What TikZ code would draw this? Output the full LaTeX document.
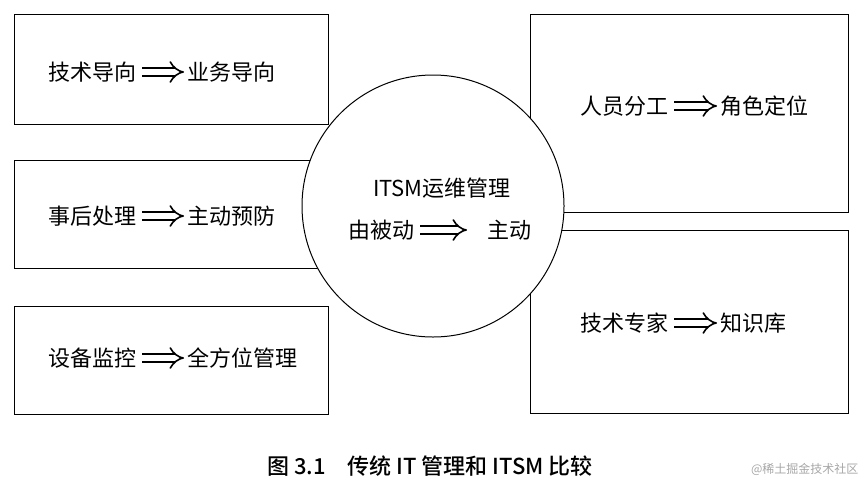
\documentclass[tikz,border=0pt]{standalone}
\usepackage{fontspec}
\setmainfont{Liberation Serif}
\newfontfamily\cjk{Noto Sans CJK SC}
\newfontfamily\cjkm{Noto Sans CJK SC Medium}
\usetikzlibrary{arrows}
\begin{document}
\begin{tikzpicture}[x=1pt,y=-1pt,
  box/.style={draw,line width=1pt},
  txt/.style={font=\cjk\fontsize{22}{26}\selectfont,inner sep=0pt},
  imp/.style={double,double distance=6pt,line width=1.6pt,-implies}]
\useasboundingbox (0,0) rectangle (866,490);
\draw[box] (14,14) rectangle (328,124);
\draw[box] (14,160) rectangle (328,268);
\draw[box] (14,306) rectangle (328,414);
\draw[box] (530,14) rectangle (848,212);
\draw[box] (530,230) rectangle (848,413);
\node[circle,draw,line width=1pt,fill=white,minimum size=262pt,inner sep=0pt] (c) at (433,206) {};
\node[txt,anchor=east] (a1) at (137,72) {技术导向};
\node[txt,anchor=west] (b1) at (187,72) {业务导向};
\node[txt,anchor=east] (a2) at (137,216) {事后处理};
\node[txt,anchor=west] (b2) at (187,216) {主动预防};
\node[txt,anchor=east] (a3) at (137,358) {设备监控};
\node[txt,anchor=west] (b3) at (187,358) {全方位管理};
\node[txt,anchor=east] (a4) at (669,106) {人员分工};
\node[txt,anchor=west] (b4) at (720,106) {角色定位};
\node[txt,anchor=east] (a5) at (669,323) {技术专家};
\node[txt,anchor=west] (b5) at (720,323) {知识库};
\node[txt] (t) at (442,188) {ITSM运维管理};
\node[txt,anchor=east] (a6) at (415,230) {由被动};
\node[txt,anchor=west] (b6) at (487,230) {主动};
\foreach \i in {1,...,5}{\draw[imp] ([xshift=5pt]a\i.east) -- ([xshift=-3pt]b\i.west);}
\draw[imp] ([xshift=5pt]a6.east) -- ([xshift=-20pt]b6.west);
\node[font=\cjkm\fontsize{22}{26}\selectfont] (cap) at (430,466) {图 3.1\quad 传统 IT 管理和 ITSM 比较};
\node[font=\cjk\fontsize{12}{14}\selectfont,text=gray!70,anchor=east] (wm) at (862,469) {@稀土掘金技术社区};
\end{tikzpicture}
\end{document}
